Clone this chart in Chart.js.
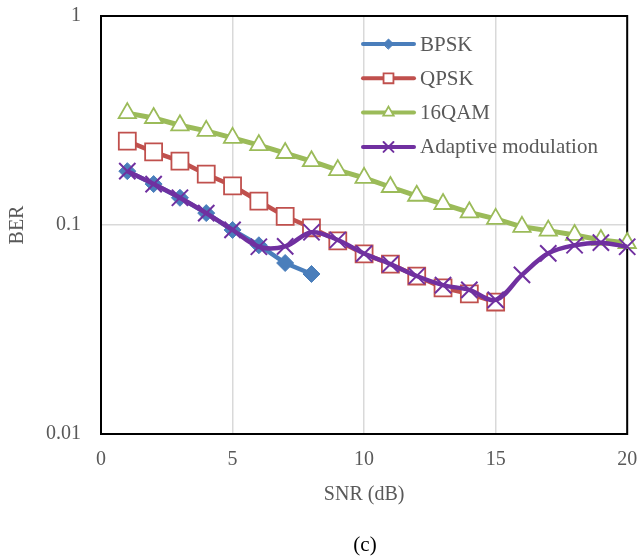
<!DOCTYPE html>
<html>
<head>
<meta charset="utf-8">
<script src="https://cdn.jsdelivr.net/npm/chart.js@4.4.1/dist/chart.umd.min.js"></script>
<style>
  html, body { margin: 0; padding: 0; background: #fff; }
  canvas { display: block; }
</style>
</head>
<body>
<canvas id="miGrafico" width="641" height="559"></canvas>
<script>
// Datos (c)
const snr = [1, 2, 3, 4, 5, 6, 7, 8, 9, 10, 11, 12, 13, 14, 15, 16, 17, 18, 19, 20];
const bpsk = [0.181, 0.157, 0.135, 0.114, 0.0947, 0.080, 0.0658, 0.0583];
const qpsk = [0.252, 0.224, 0.202, 0.175, 0.154, 0.130, 0.110, 0.097, 0.084, 0.0727,
              0.065, 0.057, 0.050, 0.0468, 0.0428];
const qam16 = [0.343, 0.325, 0.300, 0.282, 0.261, 0.241, 0.221, 0.202, 0.183, 0.168,
               0.152, 0.138, 0.126, 0.115, 0.107, 0.098, 0.094, 0.0896, 0.0848, 0.082];
const adaptive = [0.181, 0.157, 0.135, 0.114, 0.0947, 0.0787, 0.079, 0.0923, 0.0848, 0.073,
                  0.065, 0.057, 0.0516, 0.0489, 0.0438, 0.0577, 0.0732, 0.080, 0.0823, 0.0787];
const seriesNames = ['BPSK', 'QPSK', '16QAM', 'Adaptive modulation'];
const yTicks = [0.01, 0.1, 1];
const xTicks = [0, 5, 10, 15, 20];

const FONT = '"Liberation Serif", "Times New Roman", serif';
const GRIS = '#595959';

function puntos(vals) {
    return vals.map((v, i) => ({ x: snr[i], y: v }));
}

// Marco completo del area del grafico (arriba y derecha)
const marco = {
    id: 'marco',
    beforeDatasetsDraw(chart) {
        const a = chart.chartArea;
        const ctx = chart.ctx;
        ctx.save();
        ctx.strokeStyle = '#000';
        ctx.lineWidth = 2;
        ctx.strokeRect(a.left, a.top, a.right - a.left, a.bottom - a.top);
        ctx.restore();
    }
};

// Leyenda dentro del area y el pie "(c)"
const leyenda = {
    id: 'leyenda',
    afterDraw(chart) {
        const ctx = chart.ctx;
        const tamanos = [5, 7, 6, 7];
        ctx.save();
        chart.data.datasets.forEach((ds, i) => {
            const y = 44 + i * 34.3;
            ctx.setLineDash([]);
            ctx.strokeStyle = ds.borderColor;
            ctx.lineWidth = 4;
            ctx.lineCap = 'round';
            ctx.beginPath();
            ctx.moveTo(363, y);
            ctx.lineTo(414, y);
            ctx.stroke();
            ctx.fillStyle = ds.pointBackgroundColor;
            ctx.strokeStyle = ds.pointBorderColor;
            ctx.lineWidth = ds.pointBorderWidth;
            Chart.helpers.drawPoint(ctx, {
                pointStyle: ds.pointStyle,
                radius: tamanos[i],
                rotation: 0,
                borderWidth: ds.pointBorderWidth
            }, 388.5, y);
            ctx.fillStyle = GRIS;
            ctx.font = '21px ' + FONT;
            ctx.textBaseline = 'middle';
            ctx.textAlign = 'left';
            ctx.fillText(ds.label, 420, y + 1);
        });
        ctx.fillStyle = '#000';
        ctx.font = '21px ' + FONT;
        ctx.textAlign = 'center';
        ctx.textBaseline = 'middle';
        ctx.fillText('(c)', 365, 545);
        ctx.restore();
    }
};

document.addEventListener('DOMContentLoaded', function () {
    let ctx = document.getElementById('miGrafico').getContext('2d');

    new Chart(ctx, {
        type: 'line',
        data: {
            datasets: [{
                label: seriesNames[0],
                data: puntos(bpsk),
                borderColor: '#4a7ebb',
                borderWidth: 4.5,
                pointStyle: 'rectRot',
                pointRadius: 8.5,
                pointBackgroundColor: '#4a7ebb',
                pointBorderColor: '#4a7ebb',
                pointBorderWidth: 1,
                tension: 0,
                order: 4
            }, {
                label: seriesNames[1],
                data: puntos(qpsk),
                borderColor: '#c0504d',
                borderWidth: 4.5,
                pointStyle: 'rect',
                pointRadius: 12,
                pointBackgroundColor: '#ffffff',
                pointBorderColor: '#c0504d',
                pointBorderWidth: 1.8,
                tension: 0,
                order: 3
            }, {
                label: seriesNames[2],
                data: puntos(qam16),
                borderColor: '#9bbb59',
                borderWidth: 5,
                pointStyle: 'triangle',
                pointRadius: 10,
                pointBackgroundColor: '#ffffff',
                pointBorderColor: '#9bbb59',
                pointBorderWidth: 1.8,
                tension: 0,
                order: 2
            }, {
                label: seriesNames[3],
                data: puntos(adaptive),
                borderColor: '#7030a0',
                borderWidth: 4.5,
                pointStyle: 'crossRot',
                pointRadius: 11.5,
                pointBackgroundColor: '#7030a0',
                pointBorderColor: '#7030a0',
                pointBorderWidth: 2,
                tension: 0.35,
                order: 1
            }]
        },
        options: {
            responsive: false,
            animation: false,
            devicePixelRatio: 1,
            layout: { padding: { top: 16, right: 13, bottom: 52, left: 0 } },
            datasets: { line: { clip: false } },
            plugins: {
                legend: { display: false },
                tooltip: { enabled: false }
            },
            scales: {
                x: {
                    type: 'linear',
                    min: 0,
                    max: 20,
                    afterFit: s => { s.height = 73; s.paddingLeft = 0; s.paddingRight = 0; },
                    afterBuildTicks: s => { s.ticks = xTicks.map(v => ({ value: v })); },
                    grid: { color: '#d9d9d9', lineWidth: 1.5, drawTicks: false },
                    border: { color: '#000', width: 2 },
                    ticks: { color: GRIS, padding: 14, font: { family: FONT, size: 20 } },
                    title: {
                        display: true,
                        text: 'SNR (dB)',
                        color: GRIS,
                        padding: { top: 0, bottom: 0 },
                        font: { family: FONT, size: 20 }
                    }
                },
                y: {
                    type: 'logarithmic',
                    min: 0.01,
                    max: 1,
                    afterFit: s => { s.width = 101; s.paddingTop = 0; s.paddingBottom = 0; },
                    afterBuildTicks: s => { s.ticks = yTicks.map(v => ({ value: v })); },
                    grid: { color: '#d9d9d9', lineWidth: 1.5, drawTicks: false },
                    border: { color: '#000', width: 2 },
                    ticks: {
                        color: GRIS,
                        padding: 20,
                        font: { family: FONT, size: 20 },
                        callback: v => String(v)
                    },
                    title: {
                        display: true,
                        text: 'BER',
                        color: GRIS,
                        padding: { top: 6, bottom: 0 },
                        font: { family: FONT, size: 20 }
                    }
                }
            }
        },
        plugins: [marco, leyenda]
    });
});
</script>
</body>
</html>
